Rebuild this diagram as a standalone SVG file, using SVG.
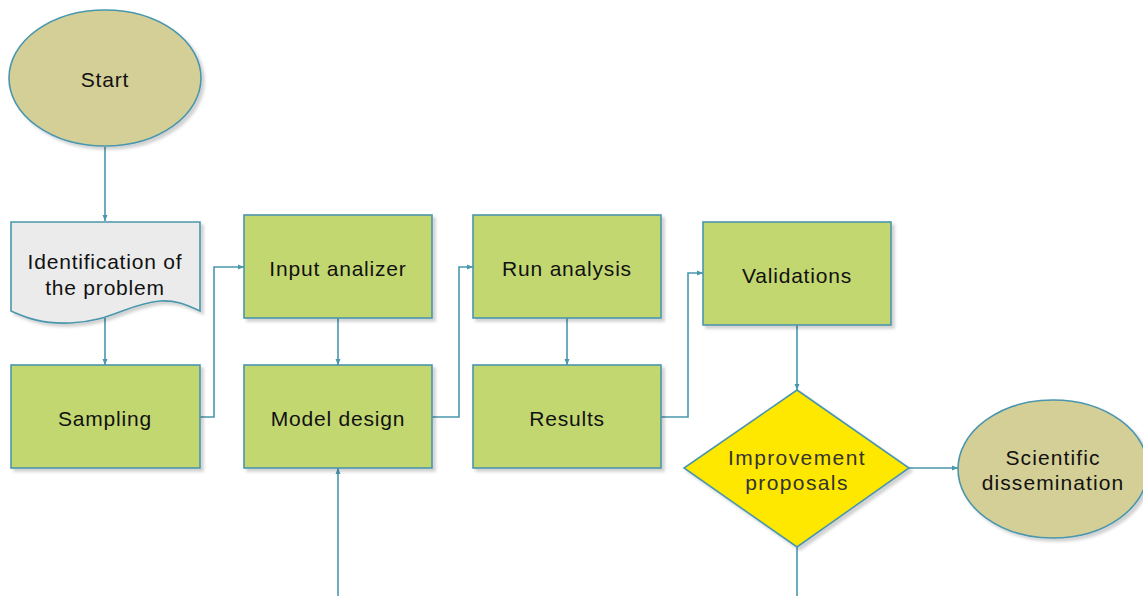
<svg xmlns="http://www.w3.org/2000/svg" width="1143" height="596" viewBox="0 0 1143 596">
<defs>
<filter id="sh" x="-10%" y="-10%" width="130%" height="130%">
<feDropShadow dx="3" dy="3" stdDeviation="1.5" flood-color="#000" flood-opacity="0.18"/>
</filter>
<marker id="ah" viewBox="0 0 6 6" refX="6" refY="3" markerWidth="6" markerHeight="6" markerUnits="userSpaceOnUse" orient="auto">
<path d="M0,0.5 L6,3 L0,5.5 z" fill="#4a96ad"/>
</marker>
</defs>
<style>
.box{fill:#c3d76f;stroke:#4a96ad;stroke-width:1.6;filter:url(#sh)}
.ell{fill:#d4cf97;stroke:#4a96ad;stroke-width:1.6;filter:url(#sh)}
.doc{fill:#ebebeb;stroke:#4a96ad;stroke-width:1.6;filter:url(#sh)}
.dia{fill:#ffe800;stroke:#4a96ad;stroke-width:1.6;filter:url(#sh)}
.t{font-family:"Liberation Sans",Arial,sans-serif;font-size:21px;fill:#111;text-anchor:middle;dominant-baseline:central;letter-spacing:0.8px}
.td{fill:#333;letter-spacing:1.4px}
.tw{letter-spacing:1.1px}
.c{fill:none;stroke:#4a96ad;stroke-width:1.6}
.ca{fill:none;stroke:#4a96ad;stroke-width:1.6;marker-end:url(#ah)}
</style>
<rect width="1143" height="596" fill="#fff"/>
<g id="connectors">
<path class="ca" d="M105,147 V221"/>
<path class="ca" d="M105,318 V365"/>
<path class="ca" d="M200,417 H214 V267 H244"/>
<path class="ca" d="M338,318 V365"/>
<path class="ca" d="M432,417 H459 V267 H473"/>
<path class="ca" d="M567,318 V365"/>
<path class="ca" d="M661,417 H688 V273 H703"/>
<path class="ca" d="M797,325 V390"/>
<path class="ca" d="M909,468 H958"/>
<path class="c" d="M797,547 V596"/>
<path class="ca" d="M338,596 V468"/>
</g>
<g id="start">
<ellipse class="ell" cx="105" cy="78" rx="96" ry="68"/>
<text class="t" x="105" y="79">Start</text>
</g>
<g id="identification">
<path class="doc" d="M11,222 H200 V311 C185,304 175,300 160,301 C130,303 110,322 70,323 C40,324 25,317 11,311 Z"/>
<text class="t" x="105" y="261">Identification of</text>
<text class="t" x="105" y="287">the problem</text>
</g>
<g id="sampling">
<rect class="box" x="11" y="365" width="189" height="103"/>
<text class="t" x="105" y="418">Sampling</text>
</g>
<g id="input">
<rect class="box" x="244" y="215" width="188" height="103"/>
<text class="t" x="338" y="268">Input analizer</text>
</g>
<g id="model">
<rect class="box" x="244" y="365" width="188" height="103"/>
<text class="t" x="338" y="418">Model design</text>
</g>
<g id="run">
<rect class="box" x="473" y="215" width="188" height="103"/>
<text class="t" x="567" y="268">Run analysis</text>
</g>
<g id="results">
<rect class="box" x="473" y="365" width="188" height="103"/>
<text class="t" x="567" y="418">Results</text>
</g>
<g id="validations">
<rect class="box" x="703" y="222" width="188" height="103"/>
<text class="t" x="797" y="275">Validations</text>
</g>
<g id="improvement">
<path class="dia" d="M797,390 L909,468 L797,547 L684,468 Z"/>
<text class="t td" x="797" y="457">Improvement</text>
<text class="t td" x="797" y="482">proposals</text>
</g>
<g id="dissemination">
<ellipse class="ell" cx="1053" cy="469" rx="95" ry="69"/>
<text class="t tw" x="1053" y="457">Scientific</text>
<text class="t tw" x="1053" y="482">dissemination</text>
</g>
</svg>
